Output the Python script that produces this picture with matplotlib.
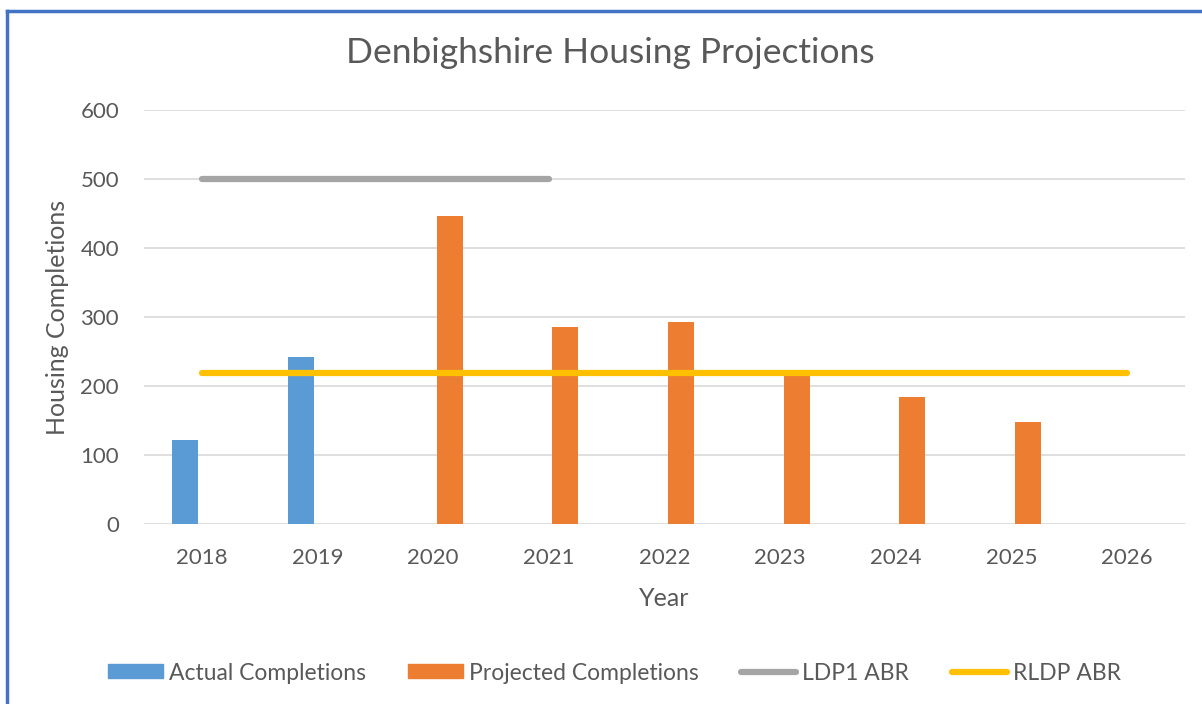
import numpy as np
import matplotlib.pyplot as plt
from matplotlib.lines import Line2D

plt.rcParams['font.family'] = ['Lato', 'DejaVu Sans']

years = ['2018', '2019', '2020', '2021', '2022', '2023', '2024', '2025', '2026']
actual = [122, 242, 0, 0, 0, 0, 0, 0, 0]
projected = [0, 0, 446, 285, 293, 218, 184, 148, 0]
ldp1_years = ['2018', '2019', '2020', '2021']
ldp1_abr = [500, 500, 500, 500]
rldp_abr = [219] * 9

text_col = '#595959'

fig = plt.figure(figsize=(12.02, 7.04), dpi=100)
ax = fig.add_axes([144 / 1202, 1 - 524 / 704, (1185 - 144) / 1202, (524 - 110) / 704])

x = np.arange(len(years))
w = 0.225
off = 0.143
ax.bar(x - off, actual, w, color='#5B9BD5', label='Actual Completions', zorder=3)
ax.bar(x + off, projected, w, color='#ED7D31', label='Projected Completions', zorder=3)
ax.plot(np.arange(len(ldp1_years)), ldp1_abr, color='#A5A5A5', lw=4.5,
        solid_capstyle='round', zorder=4)
ax.plot(x, rldp_abr, color='#FFC000', lw=4.5, solid_capstyle='round', zorder=4)

ax.set_xlim(-0.5, len(years) - 0.5)
ax.set_ylim(0, 600)
ax.set_yticks(range(0, 601, 100))
ax.set_xticks(x)
ax.set_xticklabels(years)
ax.grid(axis='y', color='#D9D9D9', lw=1.2, zorder=0)
for s in ax.spines.values():
    s.set_visible(False)
ax.tick_params(length=0, labelsize=16, colors=text_col)
ax.tick_params(axis='x', pad=17)
ax.tick_params(axis='y', pad=18)

ax.set_xlabel('Year', fontsize=18, color=text_col, labelpad=14)
ax.set_ylabel('Housing Completions', fontsize=18, color=text_col, labelpad=8)
fig.text(0.508, 1 - 53 / 704, 'Denbighshire Housing Projections', ha='center', va='center',
         fontsize=25.5, color=text_col)

handles = [
    plt.Rectangle((0, 0), 1, 1, color='#5B9BD5'),
    plt.Rectangle((0, 0), 1, 1, color='#ED7D31'),
    Line2D([], [], color='#A5A5A5', lw=4.5, solid_capstyle='round'),
    Line2D([], [], color='#FFC000', lw=4.5, solid_capstyle='round'),
]
labels = ['Actual Completions', 'Projected Completions', 'LDP1 ABR', 'RLDP ABR']
leg = fig.legend(handles, labels, loc='center', bbox_to_anchor=(0.511, 1 - 673 / 704),
                 ncol=4, frameon=False, fontsize=16.5, handlelength=2.4, handleheight=0.55,
                 handletextpad=0.26, columnspacing=1.85, labelcolor=text_col)

# blue frame (top and left edges visible)
fig.add_artist(Line2D([7 / 1202, 7 / 1202], [0, 1 - 11 / 704], color='#4472C4', lw=2.5))
fig.add_artist(Line2D([7 / 1202, 1], [1 - 11 / 704, 1 - 11 / 704], color='#4472C4', lw=2.5))

fig.savefig('out.png', dpi=100, facecolor='white')
